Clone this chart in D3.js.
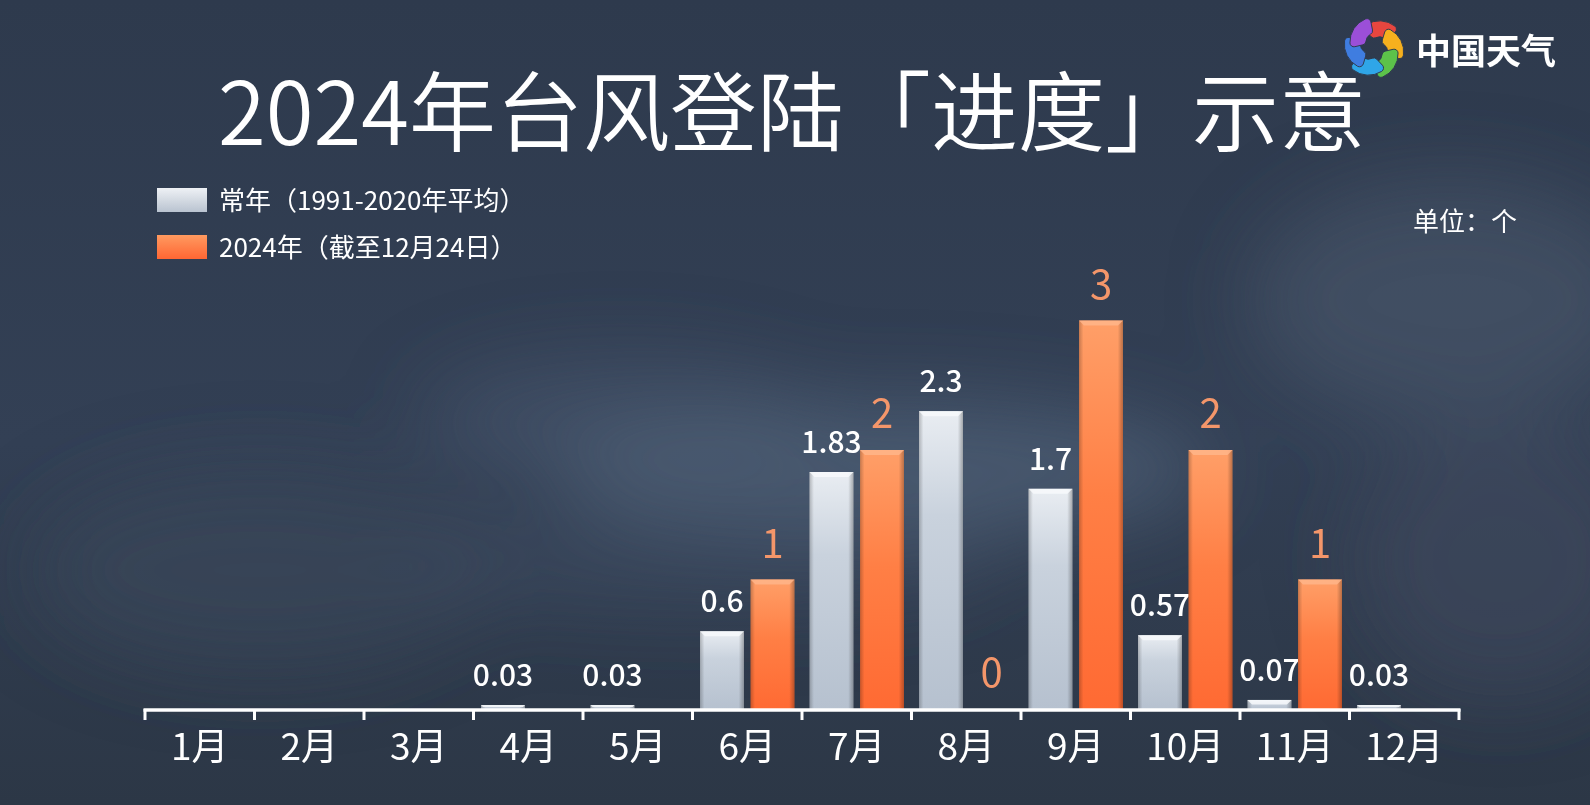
<!DOCTYPE html>
<html>
<head>
<meta charset="utf-8">
<script src="https://cdn.jsdelivr.net/npm/d3@7"></script>
<style>
  html, body { margin: 0; padding: 0; background: #2d394b; }
  svg { display: block; font-family: "Noto Sans CJK SC", "Noto Sans", sans-serif; }
</style>
</head>
<body>
<div id="chart"></div>
<script>
// data
const months = ['1月', '2月', '3月', '4月', '5月', '6月', '7月', '8月', '9月', '10月', '11月', '12月'];
const normalValues = [null, null, null, 0.03, 0.03, 0.6, 1.83, 2.3, 1.7, 0.57, 0.07, 0.03]; // 1991-2020 average
const values2024 = [null, null, null, null, null, 1, 2, 0, 3, 2, 1, null]; // up to Dec 24
const seriesKeys = ['normal', 'y2024'];
const seriesNames = ['常年（1991-2020年平均）', '2024年（截至12月24日）'];
const titleText = '2024年台风登陆「进度」示意';
const unitText = '单位：个';

const width = 1590;
const height = 805;
const marginLeft = 145;
const marginRight = 131;
const yTop = 320.5;   // pixel of value 3
const yBase = 709;    // pixel of value 0

const svg = d3.select('#chart')
  .append('svg')
  .attr('width', width)
  .attr('height', height);

const defs = svg.append('defs');

// background gradients
const bg = defs.append('linearGradient').attr('id', 'bg').attr('x1', 0).attr('y1', 0).attr('x2', 0).attr('y2', 1);
bg.append('stop').attr('offset', '0%').attr('stop-color', '#2e3a4d');
bg.append('stop').attr('offset', '55%').attr('stop-color', '#334055');
bg.append('stop').attr('offset', '100%').attr('stop-color', '#2c3746');

defs.append('filter').attr('id', 'blur').attr('x', '-50%').attr('y', '-50%').attr('width', '200%').attr('height', '200%')
  .append('feGaussianBlur').attr('stdDeviation', 40);

// bar gradients
function vGrad(id, stops) {
  const g = defs.append('linearGradient').attr('id', id).attr('x1', 0).attr('y1', 0).attr('x2', 0).attr('y2', 1);
  stops.forEach(([o, c]) => g.append('stop').attr('offset', o).attr('stop-color', c));
}
vGrad('grey-fill', [['0%', '#e9edf2'], ['35%', '#c9d2dd'], ['100%', '#b6c1cf']]);
vGrad('orange-fill', [['0%', '#ff9f68'], ['45%', '#ff7f45'], ['100%', '#ff6a33']]);
vGrad('grey-swatch', [['0%', '#eef1f5'], ['100%', '#b9c3d0']]);
vGrad('orange-swatch', [['0%', '#ff9a60'], ['100%', '#ff6633']]);

const side = defs.append('linearGradient').attr('id', 'side').attr('x1', 0).attr('y1', 0).attr('x2', 1).attr('y2', 0);
side.append('stop').attr('offset', '0%').attr('stop-color', '#000').attr('stop-opacity', 0.22);
side.append('stop').attr('offset', '10%').attr('stop-color', '#000').attr('stop-opacity', 0);
side.append('stop').attr('offset', '88%').attr('stop-color', '#000').attr('stop-opacity', 0);
side.append('stop').attr('offset', '100%').attr('stop-color', '#000').attr('stop-opacity', 0.28);

// background
svg.append('rect').attr('width', width).attr('height', height).attr('fill', 'url(#bg)');
const clouds = svg.append('g').attr('filter', 'url(#blur)');
[
  [880, 470, 330, 70, '#5a6b84', 0.55],
  [620, 420, 200, 60, '#4e5e76', 0.45],
  [1450, 300, 200, 120, '#4d5b70', 0.5],
  [1500, 560, 150, 140, '#3f4c60', 0.5],
  [260, 570, 230, 100, '#3c495c', 0.5],
  [700, 560, 300, 50, '#46556c', 0.4]
].forEach(([cx, cy, rx, ry, c, o]) => {
  clouds.append('ellipse').attr('cx', cx).attr('cy', cy).attr('rx', rx).attr('ry', ry)
    .attr('fill', c).attr('opacity', o);
});

// scales
const x = d3.scaleBand(months, [marginLeft, width - marginRight]);
const xs = d3.scaleBand(seriesKeys, [7.5, x.bandwidth() - 7.5]).paddingInner(0.13);
const y = d3.scaleLinear([0, 3], [yBase, yTop]);

// bars
const rows = months.map((m, i) => ({ month: m, normal: normalValues[i], y2024: values2024[i] }));
const fills = { normal: 'url(#grey-fill)', y2024: 'url(#orange-fill)' };
const bevelColor = { normal: '#f7f9fb', y2024: '#ffb58a' };
const labelStyle = {
  normal: { color: '#ffffff', size: 30, gap: 19, weight: 500 },
  y2024: { color: '#f4966a', size: 40, gap: 22, weight: 400 }
};

const groups = svg.append('g')
  .selectAll('g')
  .data(rows)
  .join('g')
  .attr('transform', (d) => `translate(${x(d.month)},0)`);

seriesKeys.forEach((key) => {
  const bw = xs.bandwidth();
  const withValue = groups.filter((d) => d[key] !== null);

  const bars = withValue.filter((d) => d[key] > 0);
  bars.append('rect')
    .attr('x', xs(key))
    .attr('y', (d) => y(d[key]))
    .attr('width', bw)
    .attr('height', (d) => y(0) - y(d[key]))
    .attr('fill', fills[key]);
  bars.append('rect')
    .attr('x', xs(key))
    .attr('y', (d) => y(d[key]))
    .attr('width', bw)
    .attr('height', (d) => y(0) - y(d[key]))
    .attr('fill', 'url(#side)');
  // top bevel
  bars.append('path')
    .attr('fill', bevelColor[key])
    .attr('opacity', 0.85)
    .attr('d', (d) => {
      const x0 = xs(key), x1 = x0 + bw, t = y(d[key]);
      const b = Math.min(5, (y(0) - t) / 2);
      return `M${x0},${t}L${x1},${t}L${x1 - b},${t + b}L${x0 + b},${t + b}Z`;
    });

  const ls = labelStyle[key];
  withValue.append('text')
    .attr('x', xs(key) + bw / 2)
    .attr('y', (d) => y(d[key]) - ls.gap)
    .attr('text-anchor', 'middle')
    .attr('fill', ls.color)
    .attr('font-size', ls.size)
    .attr('font-weight', ls.weight)
    .text((d) => d[key]);
});

// x axis
const xAxis = d3.axisBottom(x).tickSize(0).tickPadding(24);
const gX = svg.append('g')
  .attr('transform', `translate(0,${yBase})`)
  .call(xAxis)
  .call((g) => g.select('.domain').remove());
gX.selectAll('.tick text')
  .attr('font-size', 37)
  .attr('fill', '#ffffff')
  .attr('font-family', '"Noto Sans CJK SC", sans-serif')
  .attr('dy', '0.72em');

const edges = months.map((m) => x(m)).concat([x.range()[1]]);
gX.append('line')
  .attr('x1', x.range()[0] - 1.5)
  .attr('x2', x.range()[1] + 1.5)
  .attr('y1', 1)
  .attr('y2', 1)
  .attr('stroke', '#ffffff')
  .attr('stroke-width', 3.5);
gX.selectAll('.edge')
  .data(edges)
  .join('line')
  .attr('class', 'edge')
  .attr('x1', (d) => d)
  .attr('x2', (d) => d)
  .attr('y1', 0)
  .attr('y2', 11)
  .attr('stroke', '#ffffff')
  .attr('stroke-width', 3);

// title
svg.append('text')
  .attr('x', 792)
  .attr('y', 145)
  .attr('text-anchor', 'middle')
  .attr('fill', '#ffffff')
  .attr('font-size', 87)
  .attr('font-weight', 350)
  .text(titleText);

// legend
const legend = svg.append('g').attr('transform', 'translate(157,188)');
const legendItem = legend.selectAll('g')
  .data(seriesKeys)
  .join('g')
  .attr('transform', (d, i) => `translate(0,${i * 47})`);
legendItem.append('rect')
  .attr('width', 50)
  .attr('height', 24)
  .attr('fill', (d) => (d === 'normal' ? 'url(#grey-swatch)' : 'url(#orange-swatch)'));
legendItem.append('text')
  .attr('x', 62)
  .attr('y', 22)
  .attr('fill', '#ffffff')
  .attr('font-size', 26)
  .text((d, i) => seriesNames[i]);

// unit
svg.append('text')
  .attr('x', 1413)
  .attr('y', 231)
  .attr('fill', '#ffffff')
  .attr('font-size', 26)
  .text(unitText);

// logo: six curved blades forming a swirl
const logo = svg.append('g').attr('transform', 'translate(1374,48)');
const petalColors = ['#e8463f', '#f6b01e', '#5cc24a', '#2fa6e8', '#3f7de0', '#9b4fd8'];
const blade = d3.arc().innerRadius(9).outerRadius(25).cornerRadius(4);
petalColors.forEach((c, i) => {
  const a = i * 60;
  const rad = a * Math.PI / 180;
  logo.append('path')
    .attr('transform', `translate(${6 * Math.sin(rad + 1.2)},${-6 * Math.cos(rad + 1.2)})`)
    .attr('d', blade({ startAngle: rad - 0.75, endAngle: rad + 0.85 }))
    .attr('fill', c)
    .attr('stroke', '#2f3b4e')
    .attr('stroke-width', 1);
});
svg.append('text')
  .attr('x', 1416)
  .attr('y', 64)
  .attr('fill', '#ffffff')
  .attr('font-size', 35)
  .attr('font-weight', 700)
  .text('中国天气');
</script>
</body>
</html>
